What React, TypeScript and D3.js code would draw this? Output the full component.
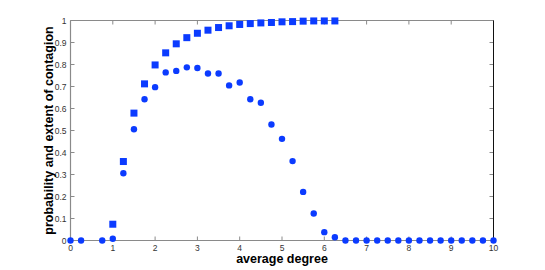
import React from 'react'
import * as d3 from 'd3'

// average degree values where each series was sampled
const circleDegree = [0, 0.25, 0.75, 1, 1.25, 1.5, 1.75, 2, 2.25, 2.5, 2.75, 3, 3.25, 3.5, 3.75, 4, 4.25, 4.5, 4.75, 5, 5.25, 5.5, 5.75, 6, 6.25, 6.5, 6.75, 7, 7.25, 7.5, 7.75, 8, 8.25, 8.5, 8.75, 9, 9.25, 9.5, 9.75, 10]
// probability of contagion (circles)
const probability = [0, 0, 0, 0.008, 0.306, 0.506, 0.642, 0.697, 0.764, 0.771, 0.787, 0.784, 0.759, 0.759, 0.705, 0.718, 0.642, 0.626, 0.527, 0.462, 0.361, 0.221, 0.123, 0.038, 0.015, 0, 0, 0, 0, 0, 0, 0, 0, 0, 0, 0, 0, 0, 0, 0]

const squareDegree = [1, 1.25, 1.5, 1.75, 2, 2.25, 2.5, 2.75, 3, 3.25, 3.5, 3.75, 4, 4.25, 4.5, 4.75, 5, 5.25, 5.5, 5.75, 6, 6.25]
// extent of contagion (squares)
const extent = [0.074, 0.359, 0.579, 0.712, 0.798, 0.853, 0.894, 0.922, 0.942, 0.956, 0.968, 0.976, 0.982, 0.986, 0.989, 0.991, 0.994, 0.995, 0.997, 0.998, 0.998, 0.998]

const xTicks = [0, 1, 2, 3, 4, 5, 6, 7, 8, 9, 10]
const yTicks = [0, 0.1, 0.2, 0.3, 0.4, 0.5, 0.6, 0.7, 0.8, 0.9, 1]

const W = 545
const H = 270
const left = 70.5
const right = 493.5
const top = 20.5
const bottom = 240.5
const blue = '#0b3bff'
const axisGray = '#8a8a8a'

export default function App() {
  const x = d3.scaleLinear().domain([0, 10]).range([left, right])
  const y = d3.scaleLinear().domain([0, 1]).range([bottom, top])
  const fmt = (v: number) => (v === 0 || v === 1 ? String(v) : v.toFixed(1))

  return (
    <svg width={W} height={H} style={{position: 'absolute', left: 0, top: 0, background: '#fff'}}
      fontFamily="'Liberation Sans', Arial, Helvetica, sans-serif">
      {/* ticks */}
      {xTicks.map(t => (
        <g key={'xt' + t}>
          <line x1={x(t)} x2={x(t)} y1={bottom} y2={bottom - 4} stroke={axisGray} />
          <line x1={x(t)} x2={x(t)} y1={top} y2={top + 4} stroke={axisGray} />
          <text x={x(t)} y={bottom + 10} fontSize={8.5} fill="#333" textAnchor="middle">{t}</text>
        </g>
      ))}
      {yTicks.map(t => (
        <g key={'yt' + t}>
          <line x1={left} x2={left + 4} y1={y(t)} y2={y(t)} stroke={axisGray} />
          <line x1={right} x2={right - 4} y1={y(t)} y2={y(t)} stroke={axisGray} />
          <text x={left - 4} y={y(t) + 3} fontSize={8.5} fill="#333" textAnchor="end">{fmt(t)}</text>
        </g>
      ))}
      {/* frame */}
      <line x1={left} x2={right} y1={top} y2={top} stroke={axisGray} strokeWidth={1.2} />
      <line x1={left} x2={right} y1={bottom} y2={bottom} stroke={axisGray} strokeWidth={1.2} />
      <line x1={left} x2={left} y1={top} y2={bottom} stroke={axisGray} strokeWidth={1.2} />
      <line x1={right} x2={right} y1={top} y2={bottom} stroke="#111" strokeWidth={1} />

      {/* series */}
      {squareDegree.map((d, i) => (
        <rect key={'s' + i} x={x(d) - 3.5} y={y(extent[i]) - 3.5} width={7} height={7} fill={blue} />
      ))}
      {circleDegree.map((d, i) => (
        <circle key={'c' + i} cx={x(d)} cy={y(probability[i])} r={3.2} fill={blue} />
      ))}

      {/* labels */}
      <text x={(left + right) / 2} y={263} fontSize={12.5} fontWeight="bold" textAnchor="middle" fill="#000">average degree</text>
      <text transform={`translate(53,${(top + bottom) / 2}) rotate(-90)`} fontSize={12.5} fontWeight="bold"
        textAnchor="middle" fill="#000">probability and extent of contagion</text>
    </svg>
  )
}
